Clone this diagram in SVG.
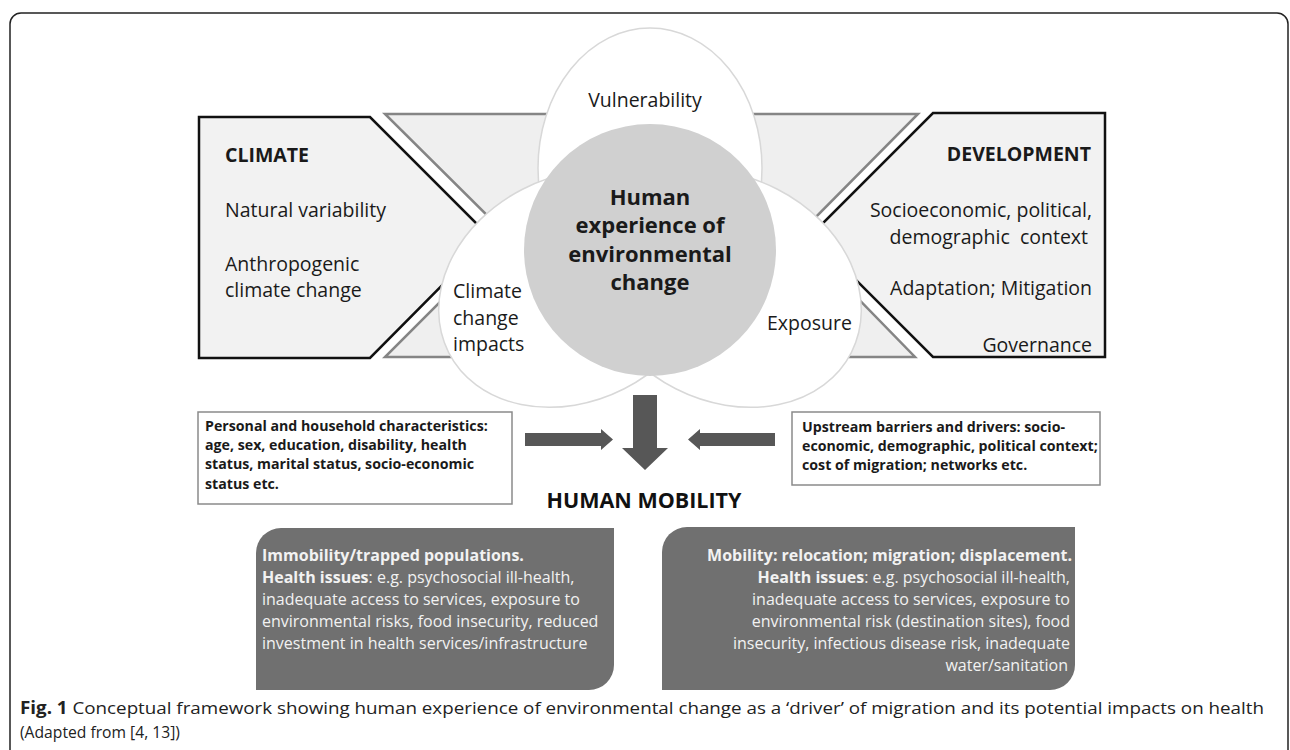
<svg xmlns="http://www.w3.org/2000/svg" width="1290" height="750" viewBox="0 0 1290 750">
<style>
.lbl{font-family:"Open Sans","Liberation Sans",sans-serif;font-size:19.5px;fill:#1a1a1a}
.b{font-weight:bold}
.ctr{font-family:"Open Sans","Liberation Sans",sans-serif;font-size:22px;font-weight:bold;fill:#1a1a1a;text-anchor:middle}
.sm{font-family:"Open Sans","Liberation Sans",sans-serif;font-size:14.2px;font-weight:bold;fill:#1a1a1a}
.wt{font-family:"Open Sans","Liberation Sans",sans-serif;font-size:16px;fill:#f2f2f2}
.cap{font-family:"Open Sans","Liberation Sans",sans-serif;font-size:17px;fill:#222}
.petal{fill:#fff;stroke:#d8d8d8;stroke-width:1.5}
.arr{fill:#575757}
</style>
<rect x="10" y="13" width="1278" height="770" rx="11" fill="#fff" stroke="#222" stroke-width="1.5"/>

<g id="band">
<polygon points="385,114 918,114 797,236 915,357 385,357 507,235" fill="#efefef" stroke="#858585" stroke-width="2.5"/>
</g>
<g id="climate">
<polygon points="199,117 370,117 490,237 370,358 199,358" fill="#f2f2f2" stroke="#111" stroke-width="2.5"/>
<text class="lbl b" x="225" y="162">CLIMATE</text>
<text class="lbl" x="225" y="217">Natural variability</text>
<text class="lbl" x="225" y="271">Anthropogenic</text>
<text class="lbl" x="225" y="297">climate change</text>
</g>
<g id="development">
<polygon points="933,113 1105,113 1105,357 933,357 811,235" fill="#f2f2f2" stroke="#111" stroke-width="2.5"/>
<text class="lbl b" x="1091" y="161" text-anchor="end">DEVELOPMENT</text>
<text class="lbl" x="1092" y="217" text-anchor="end">Socioeconomic, political,</text>
<text class="lbl" x="1088" y="244" text-anchor="end" xml:space="preserve">demographic  context</text>
<text class="lbl" x="1092" y="295" text-anchor="end">Adaptation; Mitigation</text>
<text class="lbl" x="1092" y="352" text-anchor="end">Governance</text>
</g>
<g id="vulnerability">
<ellipse class="petal" cx="650" cy="168" rx="112" ry="140"/>
<text class="lbl" x="645" y="107" text-anchor="middle">Vulnerability</text>
</g>
<g id="impacts">
<ellipse class="petal" cx="0" cy="0" rx="112" ry="140" transform="translate(573.4,289) rotate(63)"/>
<text class="lbl" x="453" y="298">Climate</text>
<text class="lbl" x="453" y="325">change</text>
<text class="lbl" x="453" y="351">impacts</text>
</g>
<g id="exposure">
<ellipse class="petal" cx="0" cy="0" rx="112" ry="140" transform="translate(726.6,289) rotate(-63)"/>
<text class="lbl" x="767" y="330">Exposure</text>
</g>
<g id="core">
<circle cx="650" cy="250" r="126" fill="#d0d0d0"/>
<text class="ctr" x="650" y="205">Human</text>
<text class="ctr" x="650" y="233">experience of</text>
<text class="ctr" x="650" y="262">environmental</text>
<text class="ctr" x="650" y="290">change</text>
</g>

<g id="personal">
<rect x="198" y="412" width="314" height="92" fill="#fff" stroke="#8a8a8a" stroke-width="1.5"/>
<text class="sm" x="205" y="431">Personal and household characteristics:</text>
<text class="sm" x="205" y="450">age, sex, education, disability, health</text>
<text class="sm" x="205" y="469">status, marital status, socio-economic</text>
<text class="sm" x="205" y="489">status etc.</text>
</g>
<g id="upstream">
<rect x="792" y="412" width="308" height="73" fill="#fff" stroke="#8a8a8a" stroke-width="1.5"/>
<text class="sm" x="802" y="432">Upstream barriers and drivers: socio-</text>
<text class="sm" x="802" y="451">economic, demographic, political context;</text>
<text class="sm" x="802" y="470">cost of migration; networks etc.</text>
</g>

<g id="connectors">
<polygon class="arr" points="525,433 601,433 601,429 613,439.5 601,450 601,446 525,446"/>
<polygon class="arr" points="775,433 700,433 700,429 688,439.5 700,450 700,446 775,446"/>
<polygon class="arr" points="633,395 657,395 657,448 668,448 645,470 622,448 633,448"/>
</g>

<g id="mobility-title">
<text x="644" y="508" text-anchor="middle" font-family="Open Sans, Liberation Sans, sans-serif" font-size="21.5" font-weight="bold" fill="#111">HUMAN MOBILITY</text>
</g>

<g id="immobility">
<path d="M281,528 H614 V665 A25,25 0 0 1 589,690 H256 V553 A25,25 0 0 1 281,528 Z" fill="#707070"/>
<text class="wt b" x="262" y="561">Immobility/trapped populations.</text>
<text class="wt" x="262" y="583"><tspan font-weight="bold">Health issues</tspan>: e.g. psychosocial ill-health,</text>
<text class="wt" x="262" y="605">inadequate access to services, exposure to</text>
<text class="wt" x="262" y="627">environmental risks, food insecurity, reduced</text>
<text class="wt" x="262" y="649">investment in health services/infrastructure</text>
</g>
<g id="mobility">
<path d="M687,527 H1075 V665 A25,25 0 0 1 1050,690 H662 V552 A25,25 0 0 1 687,527 Z" fill="#707070"/>
<text class="wt b" x="1072" y="561" text-anchor="end">Mobility: relocation; migration; displacement.</text>
<text class="wt" x="1070" y="583" text-anchor="end"><tspan font-weight="bold">Health issues</tspan>: e.g. psychosocial ill-health,</text>
<text class="wt" x="1070" y="605" text-anchor="end">inadequate access to services, exposure to</text>
<text class="wt" x="1070" y="627" text-anchor="end">environmental risk (destination sites), food</text>
<text class="wt" x="1070" y="649" text-anchor="end">insecurity, infectious disease risk, inadequate</text>
<text class="wt" x="1068" y="671" text-anchor="end">water/sanitation</text>
</g>

<g id="caption">
<text class="cap" x="20" y="714" textLength="1244" lengthAdjust="spacingAndGlyphs"><tspan font-weight="bold">Fig. 1</tspan> Conceptual framework showing human experience of environmental change as a ‘driver’ of migration and its potential impacts on health</text>
<text class="cap" x="20" y="738" textLength="160" lengthAdjust="spacingAndGlyphs">(Adapted from [4, 13])</text>
</g>
</svg>
